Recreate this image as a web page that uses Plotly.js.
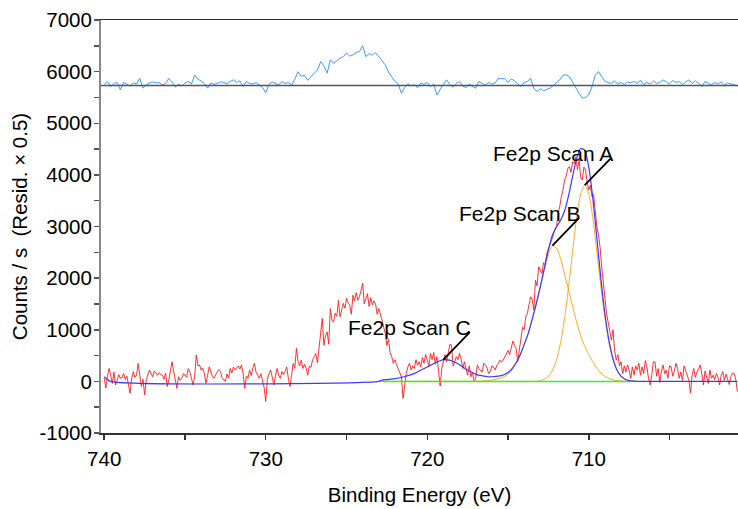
<!DOCTYPE html>
<html>
<head>
<meta charset="utf-8">
<script src="https://cdn.plot.ly/plotly-3.0.1.min.js"></script>
<style>
  html, body { margin: 0; padding: 0; background: #fff; }
  #chart { width: 738px; height: 509px; }
</style>
</head>
<body>
<div id="chart"></div>
<script>
// Fe 2p region: measured counts/s on a 0.1 eV grid from 740.0 eV downwards (one row per eV)
const countsStartEV = 740.0;
const countsStepEV = 0.1;
const counts = [
  60, -130, 110, 250, 120, -40, 180, -70, 20, 130,
  60, 70, 155, 40, 100, -40, -230, 50, 190, 80,
  120, 350, 60, -100, 40, -260, 30, 130, 220, 160,
  90, 200, 155, 120, 170, 130, 120, 40, 160, -100,
  30, 180, 380, 200, 60, -135, 90, 20, 60, 150,
  120, 80, 250, 180, 60, -70, 100, 510, 300, 320,
  220, 260, 150, -40, 120, 280, 200, 90, 60, 140,
  190, 230, 190, 60, 20, 0, 140, 60, 250, 160,
  280, 220, 260, 300, 240, 320, 150, -135, 100, 60,
  220, 110, 260, 350, 180, 120, 60, 150, 30, -120,
  -390, 40, 150, 220, 90, -70, 110, 250, 120, 60,
  190, 130, 190, 280, 60, -100, 120, 350, 250, 640,
  380, 300, 410, 250, 330, 260, 120, 300, 270, 420,
  480, 540, 360, 620, 850, 1220, 700, 880, 960, 720,
  1410, 1180, 1150, 1320, 1260, 1570, 1250, 1380, 1510, 1420,
  1610, 1520, 1480, 1300, 1670, 1560, 1720, 1570, 1640, 1760,
  1900, 1500, 1620, 1700, 1450, 1620, 1480, 1560, 1500, 1300,
  1410, 1320, 1190, 1050, 930, 700, 820, 560, 480, 350,
  420, 320, 240, 190, 90, -330, -40, 155, 280, 350,
  220, 300, 250, 420, 310, 380, 280, 460, 350, 520,
  410, 300, 540, 420, 560, 330, 480, 160, -90, 250,
  410, 520, 380, 560, 720, 700, 300, 380, 480, 420,
  540, 430, 250, 380, 220, 120, 300, 90, 180, 0,
  60, 320, 250, 220, 180, 350, 320, 260, 150, 190,
  300, 280, 220, 300, 340, 410, 370, 410, 480, 540,
  600, 520, 680, 780, 700, 640, 380, 620, 900, 1050,
  1000, 1250, 1320, 1500, 1640, 1580, 1380, 1960, 1850, 2220,
  2160, 2090, 2300, 2250, 2480, 2550, 2650, 2740, 2820, 2950,
  3000, 3250, 3380, 3580, 3700, 3900, 3970, 4120, 4160, 4050,
  4250, 4220, 4350, 4100, 4300, 3950, 3900, 4150, 4100, 3850,
  3710, 3800, 3580, 3620, 3250, 3000, 2850, 2600, 2220, 1900,
  1600, 1320, 1150, 950, 800, 1000, 600, 410, 520, 300,
  380, 150, 300, 180, 320, 220, 60, 280, 120, 300,
  220, 350, 120, 280, 150, 400, 280, 60, -70, 120,
  380, 380, 100, 250, -20, 200, 320, 150, 220, 60,
  300, 280, 100, 200, 350, 250, 60, 180, 20, 300,
  220, 140, 20, -230, 120, 250, 80, 180, 260, 320,
  150, -70, 200, 60, -40, 220, 60, 120, 30, 155,
  80, -70, 120, 190, 20, 140, 60, -60, 100, 160,
  155, 40, -200
];

// Residual (x0.5) on a 0.2 eV grid from 740.0 eV, as offsets from its baseline level
const residStartEV = 740.0;
const residStepEV = 0.2;
const residOffset = 5730;
const residual = [
  20, 80, -20, 40, 60, -85, 60, 20, -10, 50,
  30, 140, -50, 20, 45, 70, 50, 60, 10, 40,
  140, 70, -30, 30, -10, 50, 80, 30, 205, 120,
  90, 40, -50, 50, 20, 40, 70, 60, 30, 80,
  110, 60, 90, -20, 80, 40, 30, 60, 10, -40,
  -135, 20, 70, 40, 10, 80, 40, 60, 10, 120,
  270, 180, 200, 100, 180, 240, 300, 465, 380, 240,
  500, 430, 480, 530, 560, 630, 570, 595, 640, 660,
  770, 560, 620, 590, 640, 560, 480, 400, 260, 180,
  80, 30, -150, -40, 40, -10, 20, -40, 50, 20,
  60, -20, 30, -180, -60, 30, 110, 20, -30, 40,
  80, -10, -40, 30, -20, -50, 80, 40, 10, 60,
  30, 50, 140, 130, 140, 60, 130, 90, 40, -20,
  60, 80, 140, -60, -115, -60, -100, -80, -50, 0,
  60, 110, 200, 210, 175, 60, -60, -150, -245, -230,
  -180, -20, 200, 270, 175, 80, 60, 40, 90, 30,
  60, 20, 70, 50, 80, 40, 100, 20, 60, 30,
  90, 40, 60, 110, 70, 30, 100, 60, 80, 20,
  70, 110, 40, 90, 50, -20, 80, 40, 20, 60,
  30, 70, 10, 50, 30, 20, -10
];

// Fitted components on a 0.25 eV grid from 723.0 eV down to 707.0 eV
const fitStartEV = 723.0;
const fitStepEV = 0.25;
const peakA = [
  0, 0, 0, 0, 0, 0, 0, 0, 0, 0,
  0, 0, 0, 0, 0, 0, 0, 0, 0, 0,
  0, 0, 0, 0, 0, 0, 0, 0, 0, 0,
  0, 0, 0, 0, 0, 0, 0, 0, 0, 0,
  15, 40, 95, 205, 410, 740, 1220, 1830, 2520, 3170,
  3630, 3800, 3630, 3170, 2520, 1830, 1220, 740, 410, 205,
  95, 40, 15, 5, 0
];
const peakB = [
  0, 0, 0, 0, 0, 0, 0, 0, 0, 0,
  0, 0, 0, 0, 0, 0, 0, 0, 0, 0,
  0, 0, 0, 0, 0,
  5, 10, 15, 25, 40, 60, 90, 140, 220, 340,
  500, 700, 920, 1200, 1500, 1820, 2150, 2450, 2630, 2580,
  2380, 2080, 1770, 1450, 1150, 880, 680, 520, 380, 260,
  160, 95, 55, 30, 15, 6, 2, 0, 0, 0
];
const peakC = [
  0, 30, 35, 42, 52, 65, 85, 105, 130, 160,
  200, 240, 280, 320, 360, 395, 420, 418, 400, 365,
  320, 270, 220, 175, 140, 110, 90, 75, 65, 55,
  45, 38, 30, 25, 20, 16, 12, 9, 7, 5,
  4, 3, 2, 1,
  0, 0, 0, 0, 0, 0, 0, 0, 0, 0,
  0, 0, 0, 0, 0, 0, 0, 0, 0, 0, 0
];
const peakNames = ['Fe2p Scan A', 'Fe2p Scan B', 'Fe2p Scan C'];

// Flat background under the fit window
const bgEnergy = [722.75, 707.4];
const bgCounts = [0, 0];

// Envelope outside the fit window
const envLeftEnergy = [740.0, 739.6];
const envLeftCounts = [90, 0];
const envRightEnergy = [700.8];
const envRightCounts = [0];

// Axis ticks
const xTickValues = [740, 730, 720, 710];
const xTickLabels = ['740', '730', '720', '710'];
const yTickValues = [-1000, 0, 1000, 2000, 3000, 4000, 5000, 6000, 7000];
const yTickLabels = ['-1000', '0', '1000', '2000', '3000', '4000', '5000', '6000', '7000'];

const energyGrid = (start, step, n) =>
  Array.from({ length: n }, (_, i) => +(start - i * step).toFixed(2));

const countsEV = energyGrid(countsStartEV, countsStepEV, counts.length);
const residEV = energyGrid(residStartEV, residStepEV, residual.length);
const fitEV = energyGrid(fitStartEV, fitStepEV, peakA.length);

const envelopeFit = fitEV.map((_, i) => peakA[i] + peakB[i] + peakC[i]);
const envEV = envLeftEnergy.concat(fitEV, envRightEnergy);
const envCounts = envLeftCounts.concat(envelopeFit, envRightCounts);

const FONT = 'Liberation Sans, Arial, Helvetica, sans-serif';
const TXT = { family: FONT, size: 20.5, color: '#000' };
const ORANGE = '#ffa726';

const traces = [
  { x: residEV, y: residual.map(v => residOffset + v), mode: 'lines',
    line: { color: '#3d9bff', width: 1 } },
  { x: countsEV, y: counts, mode: 'lines',
    line: { color: '#ff1a1a', width: 0.9 } },
  { x: fitEV, y: peakA, mode: 'lines',
    line: { color: ORANGE, width: 1, shape: 'spline', smoothing: 0.8 } },
  { x: fitEV, y: peakB, mode: 'lines',
    line: { color: ORANGE, width: 1, shape: 'spline', smoothing: 0.8 } },
  { x: bgEnergy, y: bgCounts, mode: 'lines',
    line: { color: '#33ee33', width: 1.5 } },
  { x: envEV, y: envCounts, mode: 'lines',
    line: { color: '#3a3aff', width: 1.2, shape: 'spline', smoothing: 0.6 } }
];

// Label each component at its maximum
const components = [peakA, peakB, peakC];
const annotations = [];
components.forEach((comp, k) => {
  let best = 0;
  comp.forEach((v, i) => { if (v > comp[best]) best = i; });
  const px = fitEV[best], py = comp[best];
  annotations.push({
    x: px, y: py, xref: 'x', yref: 'y', text: ' ', showarrow: true,
    arrowhead: 0, arrowwidth: 1.8, arrowcolor: '#000', ax: 28, ay: -29,
    font: { size: 1 }
  });
  annotations.push({
    x: px, y: py, xref: 'x', yref: 'y', text: peakNames[k], showarrow: false,
    xanchor: 'right', yanchor: 'middle', xshift: 30, yshift: 32,
    font: { family: FONT, size: 21, color: '#000' }
  });
});

const layout = {
  width: 738, height: 509,
  margin: { l: 101, r: 0, t: 20, b: 76, pad: 0 },
  paper_bgcolor: '#fff', plot_bgcolor: '#fff',
  showlegend: false, hovermode: false,
  font: TXT,
  xaxis: {
    range: [740.2, 700.76],
    tickmode: 'array', tickvals: xTickValues, ticktext: xTickLabels,
    ticks: 'outside', ticklen: 5, tickwidth: 1.5, tickcolor: '#333',
    showline: true, linecolor: '#333', linewidth: 1.5, mirror: true,
    showgrid: false, zeroline: false,
    minor: { dtick: 5, tick0: 740, ticks: 'outside', ticklen: 5, tickwidth: 1.5, tickcolor: '#333', showgrid: false },
    tickfont: TXT,
    ticklabelstandoff: 2,
    title: { text: 'Binding Energy (eV)', font: TXT, standoff: 18 }
  },
  yaxis: {
    range: [-1000, 7000],
    tickmode: 'array', tickvals: yTickValues, ticktext: yTickLabels,
    ticks: 'outside', ticklen: 5, tickwidth: 1.5, tickcolor: '#555',
    showline: true, linecolor: '#888', linewidth: 2,
    showgrid: false, zeroline: false,
    minor: { dtick: 500, tick0: 0, ticks: 'outside', ticklen: 5, tickwidth: 1.5, tickcolor: '#555', showgrid: false },
    tickfont: TXT,
    ticklabelstandoff: -2,
    title: { text: 'Counts / s\u00a0 (Resid. \u00d7 0.5)', font: TXT, standoff: 6 }
  },
  shapes: [{
    type: 'line', xref: 'paper', x0: 0, x1: 1, yref: 'y', y0: residOffset, y1: residOffset,
    line: { color: '#555', width: 1.5 }, layer: 'above'
  }],
  annotations: annotations
};

Plotly.newPlot('chart', traces, layout, { staticPlot: true, displayModeBar: false });
</script>
</body>
</html>
